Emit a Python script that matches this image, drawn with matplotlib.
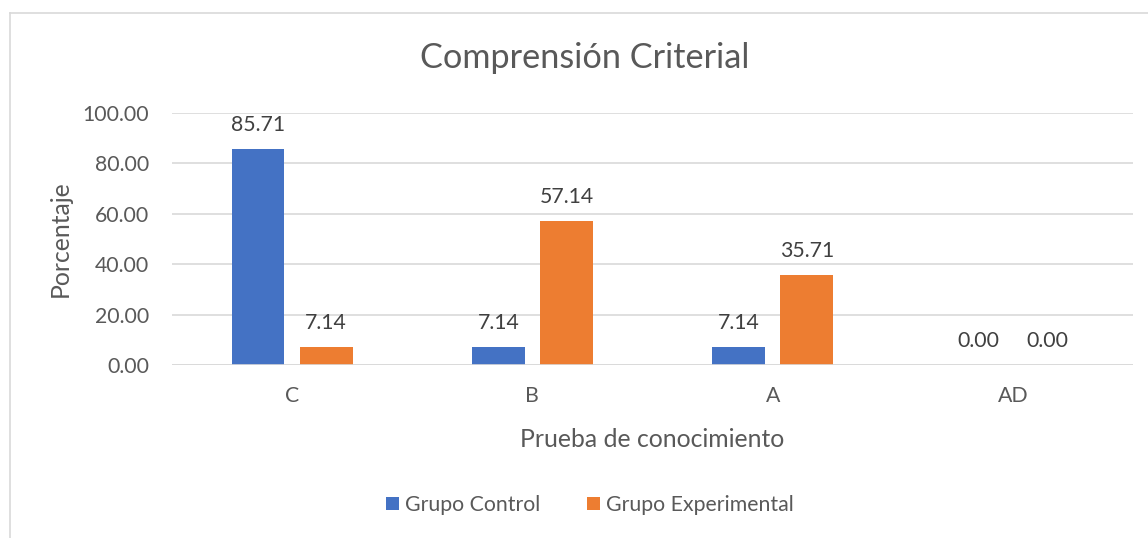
import numpy as np
import matplotlib.pyplot as plt
from matplotlib.lines import Line2D

categorias = ["C", "B", "A", "AD"]
grupo_control = [85.71, 7.14, 7.14, 0.00]
grupo_experimental = [7.14, 57.14, 35.71, 0.00]

azul = "#4472C4"
naranja = "#ED7D31"
gris_texto = "#595959"
gris_linea = "#D9D9D9"

plt.rcParams["font.family"] = ["Lato", "DejaVu Sans"]

fig = plt.figure(figsize=(11.48, 5.38), dpi=100)
ax = fig.add_axes([172 / 1148, 1 - 365 / 538, (1133 - 172) / 1148, (365 - 113) / 538])

x = np.arange(len(categorias))
ancho = 0.22
desp = 0.142

b1 = ax.bar(x - desp, grupo_control, ancho, color=azul, label="Grupo Control", zorder=3)
b2 = ax.bar(x + desp, grupo_experimental, ancho, color=naranja, label="Grupo Experimental", zorder=3)

for barras in (b1, b2):
    ax.bar_label(barras, fmt="%.2f", padding=10, fontsize=15.3, color="#404040")

ax.set_xlim(-0.5, len(categorias) - 0.5)
ax.set_ylim(0, 100)
ax.set_yticks(np.arange(0, 101, 20))
ax.set_yticklabels([f"{v:.2f}" for v in np.arange(0, 101, 20)])
ax.set_xticks(x)
ax.set_xticklabels(categorias)
ax.tick_params(axis="both", length=0, labelsize=15.3, labelcolor=gris_texto)
ax.tick_params(axis="y", pad=16.5)
ax.tick_params(axis="x", pad=15)
ax.grid(axis="y", color=gris_linea, linewidth=1.2, zorder=0)
for s in ax.spines.values():
    s.set_visible(False)
ax.axhline(0, color=gris_linea, linewidth=1.2, zorder=4)

ax.set_ylabel("Porcentaje", fontsize=17.8, color=gris_texto, labelpad=8)
ax.set_xlabel("Prueba de conocimiento", fontsize=17.8, color=gris_texto, labelpad=16)

fig.text(585 / 1148, 1 - 58 / 538, "Comprensión Criterial", ha="center", va="center",
         fontsize=24.7, color=gris_texto)

leg = fig.legend(handles=[b1, b2], loc="center", bbox_to_anchor=(590 / 1148, 1 - 505 / 538),
                 ncol=2, frameon=False, fontsize=15.3, handlelength=0.6, handleheight=0.6,
                 columnspacing=2.2, handletextpad=0.3)
for t in leg.get_texts():
    t.set_color(gris_texto)

# marco del gráfico
fig.add_artist(Line2D([10 / 1148, 10 / 1148], [0, 1 - 13 / 538], transform=fig.transFigure,
                      color=gris_linea, linewidth=1.2))
fig.add_artist(Line2D([10 / 1148, 1], [1 - 13 / 538, 1 - 13 / 538], transform=fig.transFigure,
                      color=gris_linea, linewidth=1.2))

fig.savefig("out.png", dpi=100)
